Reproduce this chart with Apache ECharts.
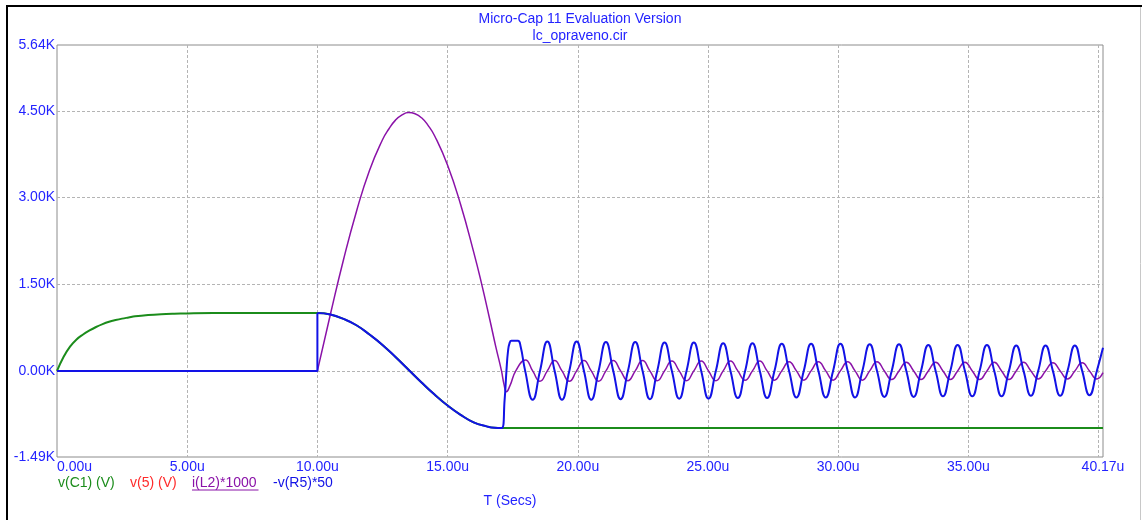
<!DOCTYPE html>
<html><head><meta charset="utf-8">
<script src="https://cdn.jsdelivr.net/npm/echarts@6/dist/echarts.min.js"></script>
<style>html,body{margin:0;padding:0;background:#fff}#c{width:1142px;height:520px}</style>
</head><body><div id="c"></div>
<script>
// ---- data (time in µs, values in K) ----
const titleLines = ['Micro-Cap 11 Evaluation Version', 'lc_opraveno.cir'];
const xAxisName = 'T (Secs)';
const xLabelValues = [0, 5, 10, 15, 20, 25, 30, 35, 40.17];
const xGridValues = [5, 10, 15, 20, 25, 30, 35, 40];
const yLabelValues = [-1.49, 0, 1.5, 3, 4.5, 5.64];
const yGridValues = [0, 1.5, 3, 4.5];
const legendNames = ['v(C1) (V)', 'v(5) (V)', 'i(L2)*1000', '-v(R5)*50'];

const vC1 = [[0,0],[0.25,0.24],[0.5,0.42],[0.75,0.545],[1.0,0.63],[1.25,0.70],[1.5,0.76],[1.75,0.81],[2.0,0.85],[2.25,0.88],[2.5,0.905],[2.75,0.925],[3.0,0.945],[3.5,0.968],[4.0,0.982],[4.5,0.99],[5.0,0.995],[6.0,1.0],[10.0,1.0],
  [10.5,0.975],[11,0.90],[11.5,0.79],[12,0.63],[12.5,0.45],[13,0.24],[13.5,0.02],[14,-0.20],[14.5,-0.41],[15,-0.60],[15.5,-0.76],[16,-0.89],[16.5,-0.96],[16.8,-0.985],[17.08,-0.99],[17.3,-0.99],[40.17,-0.99]];

const iL2Flat = [[0,0],[10,0]];
const iL2 = [[10,0],[10.5,0.98],[11,1.92],[11.5,2.76],[12,3.47],[12.5,4.00],[12.75,4.19],[13,4.34],[13.25,4.43],[13.5,4.47],[13.75,4.45],[14,4.38],[14.25,4.25],[14.5,4.07],[15,3.56],[15.5,2.88],[16,2.06],[16.3,1.52],[16.62,0.89],[16.85,0.42],[17.07,0],[17.17,-0.24],[17.26,-0.36],[17.40,-0.25],[17.62,0],[17.99,0.19],[18.267,0],
  [18.548,-0.18],[18.830,0],[19.111,0.18],[19.393,0],
  [19.674,-0.18],[19.955,0],[20.237,0.18],[20.518,0],
  [20.799,-0.18],[21.081,0],[21.362,0.18],[21.644,0],
  [21.925,-0.17],[22.206,0],[22.488,0.18],[22.769,0],
  [23.051,-0.17],[23.332,0],[23.613,0.17],[23.895,0],
  [24.176,-0.17],[24.457,0],[24.739,0.17],[25.020,0],
  [25.302,-0.17],[25.583,0],[25.864,0.17],[26.146,0],
  [26.427,-0.16],[26.708,0],[26.990,0.17],[27.271,0],
  [27.553,-0.16],[27.834,0],[28.115,0.16],[28.397,0],
  [28.678,-0.16],[28.960,0],[29.241,0.16],[29.522,0],
  [29.804,-0.16],[30.085,0],[30.366,0.16],[30.648,0],
  [30.929,-0.16],[31.211,0],[31.492,0.16],[31.773,0],
  [32.055,-0.15],[32.336,0],[32.617,0.15],[32.899,0],
  [33.180,-0.15],[33.462,0],[33.743,0.15],[34.024,0],
  [34.306,-0.15],[34.587,0],[34.868,0.15],[35.150,0],
  [35.431,-0.15],[35.713,0],[35.994,0.15],[36.275,0],
  [36.557,-0.15],[36.838,0],[37.119,0.15],[37.401,0],
  [37.682,-0.14],[37.964,0],[38.245,0.14],[38.526,0],
  [38.808,-0.14],[39.089,0],[39.370,0.14],[39.652,0],
  [39.933,-0.14],[40.17,-0.03]];

const vR5Step = [[0,0],[10,0],[10,1.0]];
const vR5 = [[10,1.0],[10.5,0.975],[11,0.90],[11.5,0.79],[12,0.63],[12.5,0.45],[13,0.24],[13.5,0.02],[14,-0.20],[14.5,-0.41],[15,-0.60],[15.5,-0.76],[16,-0.89],[16.5,-0.96],[16.8,-0.985],[17.08,-0.99],
  [17.19,-0.50],[17.26,0.00],[17.32,0.34],[17.38,0.48],[17.45,0.52],[17.70,0.52],[17.80,0.43],[17.98,0],
  [18.267,-0.50],[18.548,0],[18.830,0.51],[19.111,0],
  [19.393,-0.50],[19.674,0],[19.955,0.51],[20.237,0],
  [20.518,-0.50],[20.799,0],[21.081,0.50],[21.362,0],
  [21.644,-0.49],[21.925,0],[22.206,0.50],[22.488,0],
  [22.769,-0.49],[23.051,0],[23.332,0.49],[23.613,0],
  [23.895,-0.48],[24.176,0],[24.457,0.49],[24.739,0],
  [25.020,-0.48],[25.302,0],[25.583,0.48],[25.864,0],
  [26.146,-0.47],[26.427,0],[26.708,0.48],[26.990,0],
  [27.271,-0.47],[27.553,0],[27.834,0.47],[28.115,0],
  [28.397,-0.46],[28.678,0],[28.960,0.47],[29.241,0],
  [29.522,-0.46],[29.804,0],[30.085,0.47],[30.366,0],
  [30.648,-0.46],[30.929,0],[31.211,0.46],[31.492,0],
  [31.773,-0.45],[32.055,0],[32.336,0.46],[32.617,0],
  [32.899,-0.45],[33.180,0],[33.462,0.45],[33.743,0],
  [34.024,-0.44],[34.306,0],[34.587,0.45],[34.868,0],
  [35.150,-0.44],[35.431,0],[35.713,0.45],[35.994,0],
  [36.275,-0.44],[36.557,0],[36.838,0.44],[37.119,0],
  [37.401,-0.43],[37.682,0],[37.964,0.44],[38.245,0],
  [38.526,-0.43],[38.808,0],[39.089,0.44],[39.370,0],
  [39.652,-0.42],[39.933,0],[40.17,0.40]];

// ---- styles ----
const FONT = "'Liberation Sans', Arial, sans-serif";
const TXT = '#2323ff';
const GREEN = '#1b8c1b', RED = '#ff2a2a', PURPLE = '#8a12a8', BLUE = '#1212e6';
const legendColors = [GREEN, RED, PURPLE, BLUE];
const legendX = [58, 130, 192, 273];

const chart = echarts.init(document.getElementById('c'), null, {renderer: 'canvas'});

const graphics = [
  {type: 'line', shape: {x1: 6, y1: 6, x2: 1142, y2: 6}, style: {stroke: '#000', lineWidth: 2}, silent: true},
  {type: 'line', shape: {x1: 7, y1: 6, x2: 7, y2: 520}, style: {stroke: '#000', lineWidth: 2}, silent: true},
  {type: 'line', shape: {x1: 1140.5, y1: 7, x2: 1140.5, y2: 520}, style: {stroke: '#c8c8c8', lineWidth: 1}, silent: true},
  {type: 'text', x: 580, y: 19, style: {text: titleLines[0], fill: TXT, font: '14px ' + FONT, textAlign: 'center', textVerticalAlign: 'middle'}},
  {type: 'text', x: 580, y: 36, style: {text: titleLines[1], fill: TXT, font: '14px ' + FONT, textAlign: 'center', textVerticalAlign: 'middle'}},
  {type: 'text', x: 510, y: 501, style: {text: xAxisName, fill: TXT, font: '14px ' + FONT, textAlign: 'center', textVerticalAlign: 'middle'}}
];
legendNames.forEach((n, i) => {
  graphics.push({type: 'text', x: legendX[i], y: 483, style: {text: n, fill: legendColors[i], font: '14px ' + FONT, textAlign: 'left', textVerticalAlign: 'middle'}});
});
graphics.push({type: 'line', shape: {x1: 192, y1: 490, x2: 258.5, y2: 490}, style: {stroke: PURPLE, lineWidth: 1}, silent: true});

const lineBase = {type: 'line', showSymbol: false, symbol: 'none', animation: false, silent: true};

chart.setOption({
  animation: false,
  backgroundColor: '#fff',
  grid: {left: 57, top: 45, right: 39, bottom: 63, show: true, borderColor: '#8c8c8c', borderWidth: 1, containLabel: false},
  xAxis: {
    type: 'value', min: 0, max: 40.17,
    axisLine: {show: false},
    axisTick: {show: false, customValues: xGridValues},
    splitLine: {show: true, lineStyle: {color: '#b4b4b4', type: [3, 2], width: 1}},
    axisLabel: {customValues: xLabelValues, formatter: v => v.toFixed(2) + 'u', color: TXT, fontFamily: FONT, fontSize: 14, margin: 3, alignMinLabel: 'left'}
  },
  yAxis: {
    type: 'value', min: -1.49, max: 5.64,
    axisLine: {show: false},
    axisTick: {show: false, customValues: yGridValues},
    splitLine: {show: true, lineStyle: {color: '#b4b4b4', type: [3, 2], width: 1}},
    axisLabel: {customValues: yLabelValues, formatter: v => v.toFixed(2) + 'K', color: TXT, fontFamily: FONT, fontSize: 14, margin: 2}
  },
  graphic: graphics,
  series: [
    Object.assign({}, lineBase, {name: legendNames[0], data: vC1, smooth: 0.4, lineStyle: {color: GREEN, width: 2}, z: 2}),
    Object.assign({}, lineBase, {name: legendNames[2] + ' flat', data: iL2Flat, lineStyle: {color: PURPLE, width: 1.5}, z: 3}),
    Object.assign({}, lineBase, {name: legendNames[2], data: iL2, smooth: 0.5, lineStyle: {color: PURPLE, width: 1.5}, z: 3}),
    Object.assign({}, lineBase, {name: legendNames[3] + ' step', data: vR5Step, lineStyle: {color: BLUE, width: 2}, z: 4}),
    Object.assign({}, lineBase, {name: legendNames[3], data: vR5, smooth: 0.5, lineStyle: {color: BLUE, width: 2}, z: 4})
  ]
});
</script></body></html>
